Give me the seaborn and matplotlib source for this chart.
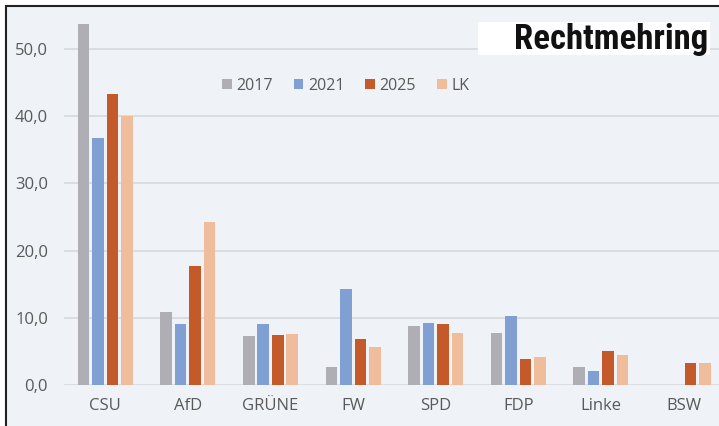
import matplotlib
matplotlib.use("Agg")
import matplotlib.pyplot as plt
import matplotlib.patches as mpatches
from matplotlib.ticker import FuncFormatter
import seaborn as sns
import pandas as pd
import numpy as np

# Werte
parteien = ["CSU", "AfD", "GRÜNE", "FW", "SPD", "FDP", "Linke", "BSW"]
wahl_2017 = [53.7, 10.9, 7.3, 2.7, 8.8, 7.7, 2.7, np.nan]
wahl_2021 = [36.8, 9.1, 9.1, 14.3, 9.2, 10.3, 2.1, np.nan]
wahl_2025 = [43.3, 17.7, 7.4, 6.9, 9.1, 3.9, 5.0, 3.2]
landkreis = [40.0, 24.3, 7.6, 5.65, 7.8, 4.1, 4.4, 3.2]
serien = ["2017", "2021", "2025", "LK"]
farben = ["#AEAEB4", "#809FD2", "#C4592A", "#EFBC9C"]

df = pd.DataFrame({"Partei": parteien, "2017": wahl_2017, "2021": wahl_2021,
                   "2025": wahl_2025, "LK": landkreis})
df = df.melt(id_vars="Partei", var_name="Serie", value_name="Wert")

bg = "#EFF2F7"
fig = plt.figure(figsize=(7.19, 4.26), dpi=100)
fig.patch.set_facecolor("white")

# Rahmen mit Hintergrund
rahmen = mpatches.Rectangle((6 / 719, -0.02), 1.02, 1 - 6 / 426 + 0.02, transform=fig.transFigure,
                            facecolor=bg, edgecolor="#222222", linewidth=1.5, zorder=-1)
fig.patches.append(rahmen)

ax = fig.add_axes([64 / 719, 41 / 426, 655 / 719, 379 / 426])
ax.set_zorder(1)
ax.set_facecolor("none")

sns.barplot(data=df, x="Partei", y="Wert", hue="Serie", order=parteien, hue_order=serien,
            palette=farben, saturation=1, width=0.7, gap=0.2, ax=ax, zorder=3)

ax.set_ylim(0, 56.4)
ax.set_xlim(-0.5, 7.43)
ax.set_yticks(np.arange(0, 51, 10))
ax.yaxis.set_major_formatter(FuncFormatter(lambda v, p: f"{v:.1f}".replace(".", ",")))
ax.grid(axis="y", color="#D3D7DC", linewidth=1.1, zorder=0)
ax.set_axisbelow(True)
for s in ax.spines.values():
    s.set_visible(False)
ax.tick_params(length=0, labelsize=12, labelcolor="#595959")
ax.tick_params(axis="y", pad=11.5)
ax.tick_params(axis="x", pad=9)
for lab in ax.get_xticklabels() + ax.get_yticklabels():
    lab.set_fontfamily("Open Sans")
ax.set_xlabel("")
ax.set_ylabel("")

ax.legend(loc="center", bbox_to_anchor=(0.43, 0.79), ncol=4, frameon=False,
          handlelength=0.6, handleheight=0.6, handletextpad=0.3, columnspacing=1.3,
          prop={"family": "Open Sans", "size": 11.5}, labelcolor="#595959")

# Titelkasten
box = mpatches.Rectangle((478 / 719, 1 - 55 / 426), 232 / 719, 33 / 426, transform=fig.transFigure,
                         facecolor="white", edgecolor="none", zorder=5)
fig.patches.append(box)
fig.text(708 / 719, 1 - 39 / 426, "Rechtmehring", ha="right", va="center",
         fontsize=25, fontweight="bold", fontstretch="condensed",
         family=["Roboto Condensed", "Liberation Sans Narrow", "DejaVu Sans"],
         color="#111111", zorder=6)

fig.savefig("out.png", dpi=100, facecolor=fig.get_facecolor())
